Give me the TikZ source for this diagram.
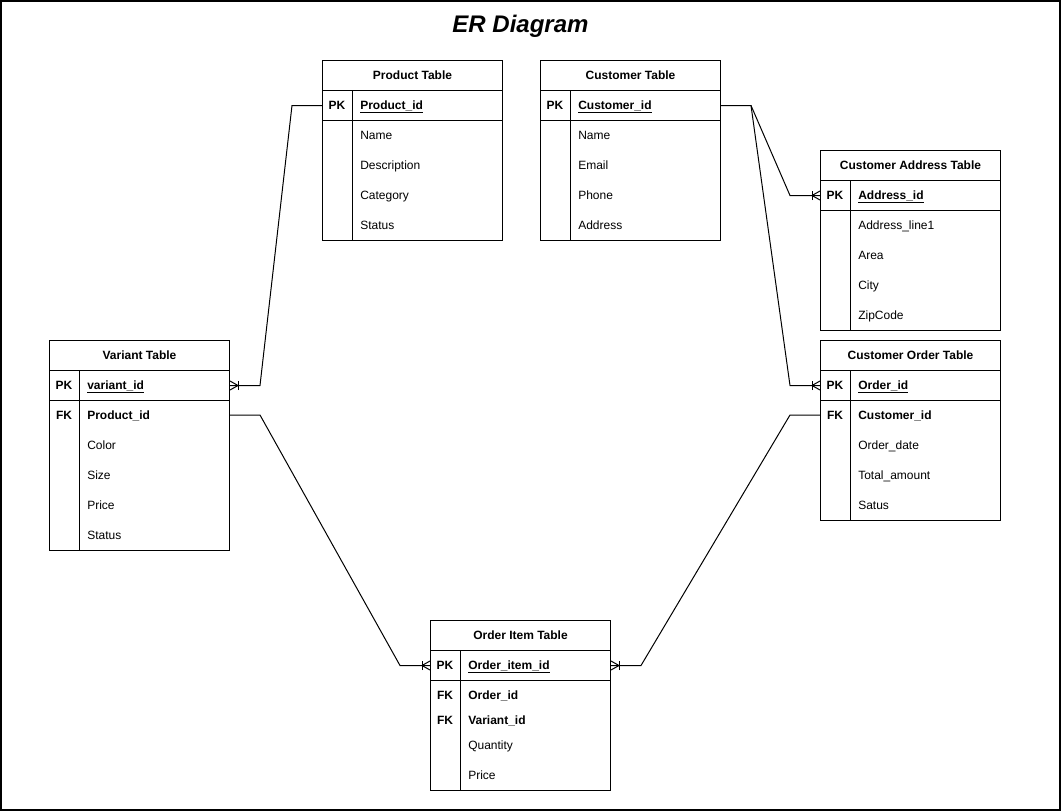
\documentclass[tikz,border=0pt]{standalone}
\usepackage{fontspec}
\setmainfont{Liberation Sans}
\usetikzlibrary{calc}
\tikzset{
  base/.style={font=\fontsize{9}{11}\selectfont, inner sep=0pt},
  tbox/.style={draw, line width=0.75pt, minimum width=135pt, anchor=north west, inner sep=0pt},
  thead/.style={base, draw, line width=0.75pt, minimum width=135pt, minimum height=22.5pt, anchor=north west, font=\fontsize{9}{11}\selectfont\bfseries, text height=6.6pt, text depth=0pt},
  pkrow/.style={draw, line width=0.75pt, minimum width=135pt, minimum height=22.5pt, anchor=north west, inner sep=0pt},
  keytxt/.style={base, anchor=base, font=\fontsize{9}{11}\selectfont\bfseries},
  fld/.style={base, anchor=base west},
  keyfld/.style={base, anchor=base west, font=\fontsize{9}{11}\selectfont\bfseries},
  divider/.style={line width=0.75pt},
  conn/.style={line width=0.75pt, line join=miter},
  frame/.style={line width=1.2pt}
}
\newcommand\ertab[5]{% name, x, y, title, height
  \node[tbox, minimum height=#5*0.75pt] (#1) at (#2,#3) {};
  \node[thead] (#1-h) at (#2,#3) {#4};
  \node[pkrow] (#1-pk) at (#2,#3+30) {};
  \draw[divider] (#2+30,#3+30) -- (#2+30,#3+#5);
}
\newcommand\crowfoot[2]{%
  \draw[conn] ($(#1)+(0,4.5)$) -- ($(#1)+(#2*8,0)$) -- ($(#1)+(0,-4.5)$);
  \draw[conn] ($(#1)+(#2*8,4.5)$) -- ($(#1)+(#2*8,-4.5)$);
}
\begin{document}
\begin{tikzpicture}[x=0.75pt,y=-0.75pt]
\useasboundingbox (0,0) rectangle (1061,811);
\draw[frame] (1,1) rectangle (1060,810);
\node[base, font=\fontsize{18}{22}\selectfont\bfseries\itshape, anchor=base] (title) at (520.5,32) {ER Diagram};

% Product Table
\ertab{prod}{322}{60}{Product Table}{180}
\node[keytxt] at (337,109) {PK};
\node[keyfld] (prod-id) at (360,109) {\underline{Product\_id}};
\node[fld] at (360,139) {Name};
\node[fld] at (360,169) {Description};
\node[fld] at (360,199) {Category};
\node[fld] at (360,229) {Status};

% Customer Table
\ertab{cust}{540}{60}{Customer Table}{180}
\node[keytxt] at (555,109) {PK};
\node[keyfld] (cust-id) at (578,109) {\underline{Customer\_id}};
\node[fld] at (578,139) {Name};
\node[fld] at (578,169) {Email};
\node[fld] at (578,199) {Phone};
\node[fld] at (578,229) {Address};

% Customer Address Table
\ertab{addr}{820}{150}{Customer Address Table}{180}
\node[keytxt] at (835,199) {PK};
\node[keyfld] (addr-id) at (858,199) {\underline{Address\_id}};
\node[fld] at (858,229) {Address\_line1};
\node[fld] at (858,259) {Area};
\node[fld] at (858,289) {City};
\node[fld] at (858,319) {ZipCode};

% Customer Order Table
\ertab{ord}{820}{340}{Customer Order Table}{180}
\node[keytxt] at (835,389) {PK};
\node[keyfld] (ord-id) at (858,389) {\underline{Order\_id}};
\node[keytxt] at (835,419) {FK};
\node[keyfld] (ord-fk) at (858,419) {Customer\_id};
\node[fld] at (858,449) {Order\_date};
\node[fld] at (858,479) {Total\_amount};
\node[fld] at (858,509) {Satus};

% Variant Table
\ertab{var}{49}{340}{Variant Table}{210}
\node[keytxt] at (64,389) {PK};
\node[keyfld] (var-id) at (87,389) {\underline{variant\_id}};
\node[keytxt] at (64,419) {FK};
\node[keyfld] (var-fk) at (87,419) {Product\_id};
\node[fld] at (87,449) {Color};
\node[fld] at (87,479) {Size};
\node[fld] at (87,509) {Price};
\node[fld] at (87,539) {Status};

% Order Item Table
\ertab{oi}{430}{620}{Order Item Table}{170}
\node[keytxt] at (445,669) {PK};
\node[keyfld] (oi-id) at (468,669) {\underline{Order\_item\_id}};
\node[keytxt] at (445,699) {FK};
\node[keyfld] (oi-fk1) at (468,699) {Order\_id};
\node[keytxt] at (445,724) {FK};
\node[keyfld] (oi-fk2) at (468,724) {Variant\_id};
\node[fld] at (468,749) {Quantity};
\node[fld] at (468,779) {Price};

% Connectors
\draw[conn] (prod-pk.west) -- ++(-30,0) -- ($(var-pk.east)+(30,0)$) -- (var-pk.east);
\draw[conn] (cust-pk.east) -- ++(30,0) coordinate (cj) -- ($(addr-pk.west)+(-30,0)$) -- (addr-pk.west);
\draw[conn] (cj) -- ($(ord-pk.west)+(-30,0)$) -- (ord-pk.west);
\draw[conn] (var.east |- var-fk.base) ++(0,-4) coordinate (vfk) -- ++(30,0) -- ($(oi-pk.west)+(-30,0)$) -- (oi-pk.west);
\draw[conn] (ord.west |- ord-fk.base) ++(0,-4) coordinate (ofk) -- ++(-30,0) -- ($(oi-pk.east)+(30,0)$) -- (oi-pk.east);

\crowfoot{var-pk.east}{1}
\crowfoot{addr-pk.west}{-1}
\crowfoot{ord-pk.west}{-1}
\crowfoot{oi-pk.west}{-1}
\crowfoot{oi-pk.east}{1}
\end{tikzpicture}
\end{document}
